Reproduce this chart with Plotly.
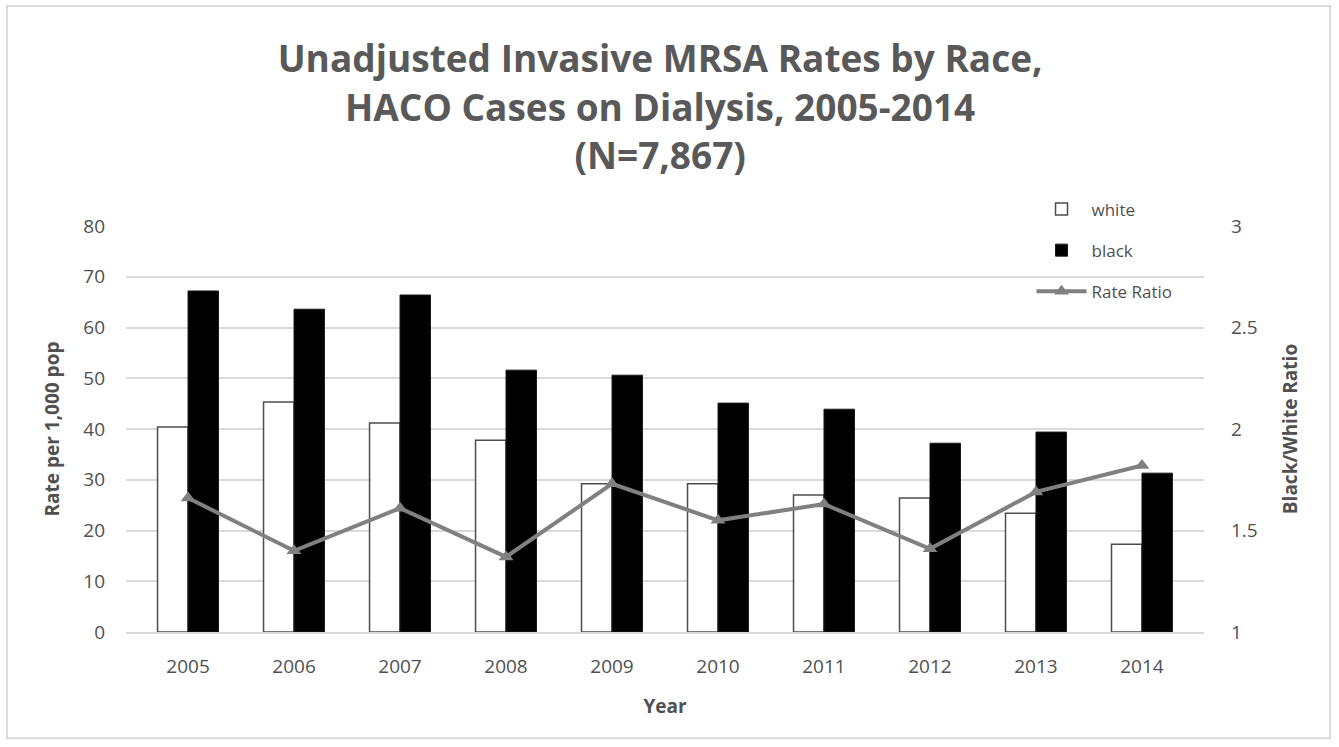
import plotly.graph_objects as go

# Invasive MRSA rates (per 1,000 population) among HACO cases on dialysis
years = ["2005", "2006", "2007", "2008", "2009", "2010", "2011", "2012", "2013", "2014"]
white_rate = [40.4, 45.3, 41.2, 37.8, 29.2, 29.2, 27.0, 26.4, 23.4, 17.3]
black_rate = [67.2, 63.6, 66.4, 51.6, 50.6, 45.1, 43.9, 37.2, 39.4, 31.3]
rate_ratio = [1.66, 1.40, 1.61, 1.37, 1.73, 1.55, 1.63, 1.41, 1.69, 1.82]

left_ticks = [0, 10, 20, 30, 40, 50, 60, 70, 80]
right_ticks = [1, 1.5, 2, 2.5, 3]

FONT = "Open Sans"
TEXT = "#505050"

fig = go.Figure()

fig.add_trace(go.Bar(
    x=years, y=white_rate, name="white",
    marker=dict(color="white", line=dict(color="#4d4d4d", width=1.5)),
    legendgroup="w",
))
fig.add_trace(go.Bar(
    x=years, y=black_rate, name="black",
    marker=dict(color="black", line=dict(color="#1a1a1a", width=1)),
    legendgroup="b",
))
fig.add_trace(go.Scatter(
    x=years, y=rate_ratio, name="Rate Ratio", yaxis="y2",
    mode="lines+markers",
    line=dict(color="#808080", width=4),
    marker=dict(symbol="triangle-up", size=13, color="#808080"),
    legendgroup="r",
))

# light frame around the whole chart
fig.add_shape(
    type="rect", xref="paper", yref="paper",
    x0=-0.1104, x1=1.1169, y0=-0.262, y1=1.5419,
    line=dict(color="#d9d9d9", width=2), layer="below",
)

fig.update_layout(
    width=1339, height=747,
    margin=dict(l=126, r=135, t=226, b=115),
    paper_bgcolor="white", plot_bgcolor="white",
    font=dict(family=FONT, color=TEXT, size=18),
    title=dict(
        text="<b>Unadjusted Invasive MRSA Rates by Race,<br>HACO Cases on Dialysis, 2005-2014<br>(N=7,867)</b>",
        x=0.493, xanchor="center", y=0.903, yanchor="middle",
        font=dict(family=FONT, size=37, color="#595959"),
    ),
    barmode="group", bargap=0.425, bargroupgap=0,
    xaxis=dict(
        title=dict(text="<b>Year</b>", font=dict(size=19, color=TEXT), standoff=22),
        showgrid=False, showline=True, linecolor="#d9d9d9", linewidth=1.5,
        ticks="", tickfont=dict(size=19, color=TEXT), ticklabelstandoff=16,
    ),
    yaxis=dict(
        title=dict(text="<b>Rate per 1,000 pop</b>", font=dict(size=19, color=TEXT), standoff=18),
        range=[0, 80], tickvals=left_ticks,
        showgrid=True, gridcolor="#d9d9d9", gridwidth=1.5,
        zeroline=False, showline=False, ticks="",
        tickfont=dict(size=19, color=TEXT), ticklabelstandoff=20,
    ),
    yaxis2=dict(
        title=dict(text="<b>Black/White Ratio</b>", font=dict(size=19, color=TEXT), standoff=26),
        range=[1, 3], tickvals=right_ticks, ticktext=["1", "1.5", "2", "2.5", "3"],
        overlaying="y", side="right", showgrid=False, zeroline=False,
        showline=False, ticks="", tickfont=dict(size=19, color=TEXT),
        ticklabelstandoff=26,
    ),
    legend=dict(
        x=0.84, xanchor="left", y=1.085, yanchor="top",
        bgcolor="rgba(0,0,0,0)", font=dict(size=17, color=TEXT),
        tracegroupgap=16, itemwidth=50,
    ),
    showlegend=True,
)

fig.write_html("out.html")
